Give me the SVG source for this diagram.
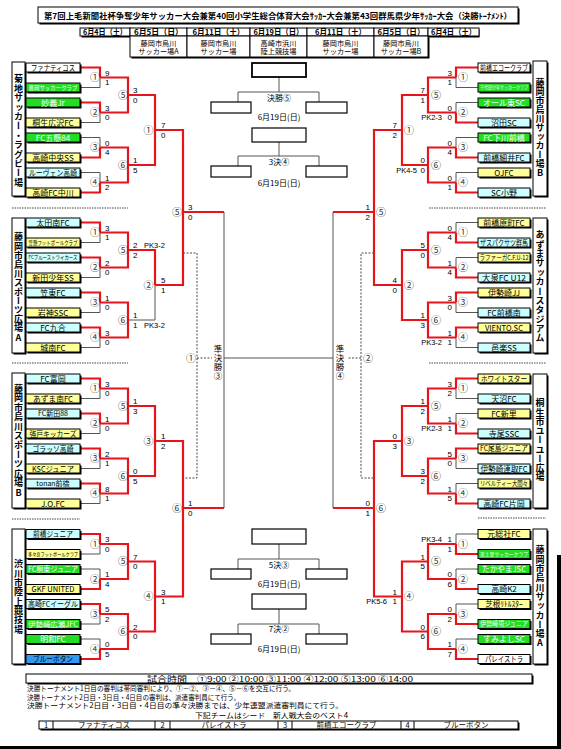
<svg xmlns="http://www.w3.org/2000/svg" width="561" height="749" viewBox="0 0 561 749">
<style>
.s{fill:#000}
.b{stroke:#000;stroke-width:1}
.tn{font-family:"Noto Sans CJK JP","Noto Sans CJK SC",sans-serif;font-size:8px;text-anchor:middle;fill:#000}
.wt{fill:#fff}
.g{fill:none;stroke:#555;stroke-width:1}
.r{fill:none;stroke:#e8141c;stroke-width:2.2}
.d{fill:none;stroke:#333;stroke-width:0.9;stroke-dasharray:2 1.5}
.sep{fill:none;stroke:#444;stroke-width:1;stroke-dasharray:1.5 1}
.sc{font-family:"Liberation Sans",Arial,sans-serif;font-size:8px;fill:#000}
.scr{font-family:"Liberation Sans",Arial,sans-serif;font-size:8px;fill:#000;text-anchor:end}
.pk{font-family:"Liberation Sans",Arial,sans-serif;font-size:7.5px;fill:#000}
.pkr{font-family:"Liberation Sans",Arial,sans-serif;font-size:7.5px;fill:#000;text-anchor:end}
.cn{font-family:"Noto Sans CJK JP",sans-serif;font-size:10px;text-anchor:middle;fill:#333}
.vl{font-family:"Noto Sans CJK JP",sans-serif;font-size:9px;font-weight:700;writing-mode:vertical-rl;text-orientation:upright;fill:#000}
.vs{font-family:"Noto Sans CJK JP",sans-serif;font-size:8.5px;writing-mode:vertical-rl;text-orientation:upright;fill:#000}
.hd{font-family:"Noto Sans CJK JP",sans-serif;font-size:8px;font-weight:700;text-anchor:middle}
.vn{font-family:"Noto Sans CJK JP",sans-serif;font-size:7.2px;text-anchor:middle}
.ft{font-family:"Noto Sans CJK JP",sans-serif;font-size:8px;text-anchor:middle}
.nt{font-family:"Noto Sans CJK JP",sans-serif;font-size:7px}
.W{fill:#fff}.Y{fill:#ffff99}.C{fill:#ccffff}.G{fill:#22dd22}.B{fill:#3399ee}
.fb{fill:#fff;stroke:#000;stroke-width:1.2}
</style>
<rect width="561" height="749" fill="#fff"/>
<rect x="0" y="746" width="561" height="3" fill="#000"/>
<rect x="557" y="555" width="4" height="194" fill="#000"/>

<g id="title">
<rect class="s" x="39.5" y="8.5" width="480" height="16"/>
<rect class="b" x="38" y="7" width="480" height="16" fill="#fff"/>
<text class="hd" x="278" y="18.5" textLength="468" lengthAdjust="spacingAndGlyphs">第7回上毛新聞社杯争奪少年サッカー大会兼第40回小学生総合体育大会ｻｯｶｰ大会兼第43回群馬県少年ｻｯｶｰ大会（決勝ﾄｰﾅﾒﾝﾄ）</text>
</g>

<g id="header">
<rect class="s" x="81.5" y="29.5" width="398" height="8"/>
<rect class="s" x="131.5" y="37.5" width="298" height="21"/>
<g fill="#fff" stroke="#000" stroke-width="1">
<rect x="80" y="28" width="50" height="8"/><rect x="130" y="28" width="57" height="8"/><rect x="187" y="28" width="63" height="8"/><rect x="250" y="28" width="57" height="8"/><rect x="307" y="28" width="67" height="8"/><rect x="374" y="28" width="54" height="8"/><rect x="428" y="28" width="51" height="8"/>
<rect x="130" y="36" width="57" height="21"/><rect x="187" y="36" width="63" height="21"/><rect x="250" y="36" width="57" height="21"/><rect x="307" y="36" width="67" height="21"/><rect x="374" y="36" width="54" height="21"/>
</g>
<text class="hd" x="105" y="35" textLength="44" lengthAdjust="spacingAndGlyphs">6月4日（土）</text>
<text class="hd" x="158.5" y="35" textLength="49" lengthAdjust="spacingAndGlyphs">6月5日（日）</text>
<text class="hd" x="218.5" y="35" textLength="52" lengthAdjust="spacingAndGlyphs">6月11日（土）</text>
<text class="hd" x="278.5" y="35" textLength="50" lengthAdjust="spacingAndGlyphs">6月19日（日）</text>
<text class="hd" x="340.5" y="35" textLength="51" lengthAdjust="spacingAndGlyphs">6月11日（土）</text>
<text class="hd" x="401" y="35" textLength="47" lengthAdjust="spacingAndGlyphs">6月5日（日）</text>
<text class="hd" x="453.5" y="35" textLength="45" lengthAdjust="spacingAndGlyphs">6月4日（土）</text>
<text class="vn" x="158.5" y="45.5">藤岡市烏川</text><text class="vn" x="158.5" y="54">サッカー場A</text>
<text class="vn" x="218.5" y="45.5">藤岡市烏川</text><text class="vn" x="218.5" y="54">サッカー場</text>
<text class="vn" x="278.5" y="45.5">高崎市浜川</text><text class="vn" x="278.5" y="54">陸上競技場</text>
<text class="vn" x="340.5" y="45.5">藤岡市烏川</text><text class="vn" x="340.5" y="54">サッカー場</text>
<text class="vn" x="401" y="45.5">藤岡市烏川</text><text class="vn" x="401" y="54">サッカー場B</text>
</g>

<g id="venues">
<rect class="s" x="13.5" y="63.5" width="13" height="134"/><rect class="b" x="12" y="62" width="13" height="134" fill="#fff"/>
<text class="vl" x="18.5" y="74.5" letter-spacing="0.4">菊地サッカー・ラグビー場</text>
<rect class="s" x="13.5" y="219.5" width="13" height="135"/><rect class="b" x="12" y="218" width="13" height="135" fill="#fff"/>
<text class="vl" x="18.5" y="232.5" letter-spacing="0.1">藤岡市烏川スポーツ広場A</text>
<rect class="s" x="13.5" y="374.5" width="13" height="135"/><rect class="b" x="12" y="373" width="13" height="135" fill="#fff"/>
<text class="vl" x="18.5" y="383.8" letter-spacing="0.45">藤岡市烏川スポーツ広場B</text>
<rect class="s" x="13.5" y="530.5" width="13" height="135"/><rect class="b" x="12" y="529" width="13" height="135" fill="#fff"/>
<text class="vl" x="18.5" y="559.5" letter-spacing="0.3">渋川市陸上競技場</text>
<rect class="s" x="534.5" y="62.5" width="14" height="135"/><rect class="b" x="533" y="61" width="14" height="135" fill="#fff"/>
<text class="vl" x="540" y="78.5">藤岡市烏川サッカー場B</text>
<rect class="s" x="534.5" y="219.5" width="14" height="135"/><rect class="b" x="533" y="218" width="14" height="135" fill="#fff"/>
<text class="vl" x="540" y="230.5" letter-spacing="0.36">あずまサッカースタジアム</text>
<rect class="s" x="534.5" y="375.5" width="14" height="134"/><rect class="b" x="533" y="374" width="14" height="134" fill="#fff"/>
<text class="vl" x="540" y="398.5" letter-spacing="0.25">桐生市ユーユー広場</text>
<rect class="s" x="534.5" y="530.5" width="14" height="135"/><rect class="b" x="533" y="529" width="14" height="135" fill="#fff"/>
<text class="vl" x="540" y="545.5" letter-spacing="0.3">藤岡市烏川サッカー場A</text>
</g>

<g id="separators">
<path class="sep" d="M12,208H128M12,363H128M12,519H80M429,208H546M429,363H546M478,518H546"/>
</g>

<g id="connectors">
<path class="g" d="M80,87.5H100V77.5M80,122.5H100V112.5M80,137.5H100V147.5M80,172.5H100V182.5M80,242.5H100V232.5M80,277.5H100V267.5M80,312.5H100V302.5M80,347.5H100V337.5M80,398.5H100V388.5M80,433.5H100V423.5M80,468.5H100V458.5M80,503.5H100V493.5M80,554H100V544M80,569H100V579M80,624H100V614M80,639H100V649M128,320H155V285"/>
<path class="g" d="M478,87.5H456V77.5M478,102.5H456V112.5M478,137.5H456V147.5M478,172.5H456V182.5M478,222.5H456V232.5M478,257.5H456V267.5M478,312.5H456V302.5M478,347.5H456V337.5M478,398.5H456V388.5M478,413.5H456V423.5M478,468.5H456V458.5M478,483.5H456V493.5M478,534H456V544M478,569H456V579M478,604H456V614M478,639H456V649"/>
<path class="g" d="M224,212V508M333,212V508M224,358H333"/>
<path class="d" d="M183,253H197V478H183M197,358H212M374,253H361V478H374M361,358H347"/>
<path class="r" d="M80,67.5H100V77.5M80,102.5H100V112.5M80,157.5H100V147.5M80,192.5H100V182.5M100,77.5H128V95M100,112.5H128V95M100,147.5H128V165M100,182.5H128V165M128,95H155V130M128,165H155V130M155,130H183V212"/>
<path class="r" d="M80,222.5H100V232.5M80,257.5H100V267.5M80,292.5H100V302.5M80,327.5H100V337.5M100,232.5H128V250M100,267.5H128V250M100,302.5H128V320M100,337.5H128V320M128,250H155V285M155,285H183V212M183,212H224"/>
<path class="r" d="M80,378.5H100V388.5M80,413.5H100V423.5M80,448.5H100V458.5M80,483.5H100V493.5M100,388.5H128V406M100,423.5H128V406M100,458.5H128V476M100,493.5H128V476M128,406H155V441M128,476H155V441M155,441H183V508"/>
<path class="r" d="M80,534H100V544M80,589H100V579M80,604H100V614M80,659H100V649M100,544H128V561.5M100,579H128V561.5M100,614H128V631.5M100,649H128V631.5M128,561.5H155V596.5M128,631.5H155V596.5M155,596.5H183V508M183,508H224"/>
<path class="r" d="M478,67.5H456V77.5M478,122.5H456V112.5M478,157.5H456V147.5M478,192.5H456V182.5M456,77.5H428V95M456,112.5H428V95M456,147.5H428V165M456,182.5H428V165M428,95H402V130M428,165H402V130M402,130H374V212"/>
<path class="r" d="M478,242.5H456V232.5M478,277.5H456V267.5M478,292.5H456V302.5M478,327.5H456V337.5M456,232.5H428V250M456,267.5H428V250M456,302.5H428V320M456,337.5H428V320M428,250H402V285M428,320H402V285M402,285H374V212M374,212H333"/>
<path class="r" d="M478,378.5H456V388.5M478,433.5H456V423.5M478,448.5H456V458.5M478,503.5H456V493.5M456,388.5H428V406M456,423.5H428V406M456,458.5H428V476M456,493.5H428V476M428,406H402V441M428,476H402V441M402,441H374V508"/>
<path class="r" d="M478,554H456V544M478,589H456V579M478,624H456V614M478,659H456V649M456,544H428V561.5M456,579H428V561.5M456,614H428V631.5M456,649H428V631.5M428,561.5H402V596.5M428,631.5H402V596.5M402,596.5H374V508M374,508H333"/>
<path class="g" d="M279,77V92M238,102V92H319V102M279,142V156M238,166V156H319V166M279,544V559M238,569V559H319V569M279,609V624M238,634V624H319V634"/>
</g>

<g id="teams-left">
<g id="L1"><rect class="s" x="27.5" y="64.5" width="54" height="9"/><rect class="b W" x="26" y="63" width="54" height="9"/><text class="tn" x="53" y="70.5" textLength="44" lengthAdjust="spacingAndGlyphs">ファナティコス</text></g>
<g id="L2"><rect class="s" x="27.5" y="84.5" width="54" height="9"/><rect class="b G" x="26" y="83" width="54" height="9"/><text class="tn wt" x="53" y="89.7" style="font-size:6px" textLength="49" lengthAdjust="spacingAndGlyphs">豊岡サッカークラブ</text></g>
<g id="L3"><rect class="s" x="27.5" y="99.5" width="54" height="9"/><rect class="b G" x="26" y="98" width="54" height="9"/><text class="tn wt" x="53" y="105.5">妙義Jr</text></g>
<g id="L4"><rect class="s" x="27.5" y="119.5" width="54" height="9"/><rect class="b Y" x="26" y="118" width="54" height="9"/><text class="tn" x="53" y="125.5">桐生広沢FC</text></g>
<g id="L5"><rect class="s" x="27.5" y="134.5" width="54" height="9"/><rect class="b G" x="26" y="133" width="54" height="9"/><text class="tn wt" x="53" y="140.5">FC五懸84</text></g>
<g id="L6"><rect class="s" x="27.5" y="154.5" width="54" height="9"/><rect class="b Y" x="26" y="153" width="54" height="9"/><text class="tn" x="53" y="160.5">高崎中央SS</text></g>
<g id="L7"><rect class="s" x="27.5" y="169.5" width="54" height="9"/><rect class="b C" x="26" y="168" width="54" height="9"/><text class="tn" x="53" y="175.5" textLength="48" lengthAdjust="spacingAndGlyphs">ルーヴェン高崎</text></g>
<g id="L8"><rect class="s" x="27.5" y="189.5" width="54" height="9"/><rect class="b Y" x="26" y="188" width="54" height="9"/><text class="tn" x="53" y="195.5">高崎FC中川</text></g>

<g id="L9"><rect class="s" x="27.5" y="219.5" width="54" height="9"/><rect class="b C" x="26" y="218" width="54" height="9"/><text class="tn" x="53" y="225.5">太田南FC</text></g>
<g id="L10"><rect class="s" x="27.5" y="239.5" width="54" height="9"/><rect class="b Y" x="26" y="238" width="54" height="9"/><text class="tn" x="53" y="244.5" style="font-size:5.5px" textLength="49" lengthAdjust="spacingAndGlyphs">笠懸フットボールクラブ</text></g>
<g id="L11"><rect class="s" x="27.5" y="254.5" width="54" height="9"/><rect class="b C" x="26" y="253" width="54" height="9"/><text class="tn" x="53" y="259.3" style="font-size:5px" textLength="49" lengthAdjust="spacingAndGlyphs">FCブルーストライカーズ</text></g>
<g id="L12"><rect class="s" x="27.5" y="274.5" width="54" height="9"/><rect class="b Y" x="26" y="273" width="54" height="9"/><text class="tn" x="53" y="280.5">新田少年SS</text></g>
<g id="L13"><rect class="s" x="27.5" y="289.5" width="54" height="9"/><rect class="b C" x="26" y="288" width="54" height="9"/><text class="tn" x="53" y="295.5">笠東FC</text></g>
<g id="L14"><rect class="s" x="27.5" y="309.5" width="54" height="9"/><rect class="b Y" x="26" y="308" width="54" height="9"/><text class="tn" x="53" y="315.5">岩神SSC</text></g>
<g id="L15"><rect class="s" x="27.5" y="324.5" width="54" height="9"/><rect class="b C" x="26" y="323" width="54" height="9"/><text class="tn" x="53" y="330.5">FC九合</text></g>
<g id="L16"><rect class="s" x="27.5" y="344.5" width="54" height="9"/><rect class="b Y" x="26" y="343" width="54" height="9"/><text class="tn" x="53" y="350.5">城南FC</text></g>

<g id="L17"><rect class="s" x="27.5" y="375.5" width="54" height="9"/><rect class="b C" x="26" y="374" width="54" height="9"/><text class="tn" x="53" y="381.5">FC富岡</text></g>
<g id="L18"><rect class="s" x="27.5" y="395.5" width="54" height="9"/><rect class="b Y" x="26" y="394" width="54" height="9"/><text class="tn" x="53" y="401.5" textLength="40" lengthAdjust="spacingAndGlyphs">あずま南FC</text></g>
<g id="L19"><rect class="s" x="27.5" y="410.5" width="54" height="9"/><rect class="b C" x="26" y="409" width="54" height="9"/><text class="tn" x="53" y="416.1" style="font-size:7px">FC新田88</text></g>
<g id="L20"><rect class="s" x="27.5" y="430.5" width="54" height="9"/><rect class="b Y" x="26" y="429" width="54" height="9"/><text class="tn" x="53" y="436.5" textLength="47" lengthAdjust="spacingAndGlyphs">強戸キッカーズ</text></g>
<g id="L21"><rect class="s" x="27.5" y="445.5" width="54" height="9"/><rect class="b C" x="26" y="444" width="54" height="9"/><text class="tn" x="53" y="451.5" textLength="41" lengthAdjust="spacingAndGlyphs">ゴラッソ高崎</text></g>
<g id="L22"><rect class="s" x="27.5" y="465.5" width="54" height="9"/><rect class="b Y" x="26" y="464" width="54" height="9"/><text class="tn" x="53" y="471.5" textLength="42" lengthAdjust="spacingAndGlyphs">KSCジュニア</text></g>
<g id="L23"><rect class="s" x="27.5" y="480.5" width="54" height="9"/><rect class="b C" x="26" y="479" width="54" height="9"/><text class="tn" x="53" y="486.1" style="font-size:7px">tonan前橋</text></g>
<g id="L24"><rect class="s" x="27.5" y="500.5" width="54" height="9"/><rect class="b Y" x="26" y="499" width="54" height="9"/><text class="tn" x="53" y="506.5">J.O.FC</text></g>

<g id="L25"><rect class="s" x="27.5" y="531" width="54" height="9"/><rect class="b C" x="26" y="529.5" width="54" height="9"/><text class="tn" x="53" y="537" textLength="40" lengthAdjust="spacingAndGlyphs">前橋ジュニア</text></g>
<g id="L26"><rect class="s" x="27.5" y="551" width="54" height="9"/><rect class="b Y" x="26" y="549.5" width="54" height="9"/><text class="tn" x="53" y="555.8" style="font-size:5px" textLength="50" lengthAdjust="spacingAndGlyphs">多々良フットボールクラブ</text></g>
<g id="L27"><rect class="s" x="27.5" y="566" width="54" height="9"/><rect class="b G" x="26" y="564.5" width="54" height="9"/><text class="tn wt" x="53" y="571.8" style="font-size:7.5px" textLength="50" lengthAdjust="spacingAndGlyphs">FC桐東ジュニア</text></g>
<g id="L28"><rect class="s" x="27.5" y="586" width="54" height="9"/><rect class="b Y" x="26" y="584.5" width="54" height="9"/><text class="tn" x="53" y="592" textLength="43" lengthAdjust="spacingAndGlyphs">GKF UNITED</text></g>
<g id="L29"><rect class="s" x="27.5" y="601" width="54" height="9"/><rect class="b C" x="26" y="599.5" width="54" height="9"/><text class="tn" x="53" y="606.8" style="font-size:7.5px" textLength="50" lengthAdjust="spacingAndGlyphs">高崎FCイーグル</text></g>
<g id="L30"><rect class="s" x="27.5" y="621" width="54" height="9"/><rect class="b G" x="26" y="619.5" width="54" height="9"/><text class="tn wt" x="53" y="626.6" style="font-size:7px" textLength="50" lengthAdjust="spacingAndGlyphs">伊勢崎広瀬JFC</text></g>
<g id="L31"><rect class="s" x="27.5" y="636" width="54" height="9"/><rect class="b G" x="26" y="634.5" width="54" height="9"/><text class="tn wt" x="53" y="642">明和FC</text></g>
<g id="L32"><rect class="s" x="27.5" y="656" width="54" height="9"/><rect class="b B" x="26" y="654.5" width="54" height="9"/><text class="tn" x="53" y="662" textLength="40" lengthAdjust="spacingAndGlyphs">ブルーボタン</text></g>
</g>

<g id="teams-right">
<g id="R1"><rect class="s" x="479.5" y="64.5" width="52" height="9"/><rect class="b W" x="478" y="63" width="52" height="9"/><text class="tn" x="504" y="70.5" textLength="48" lengthAdjust="spacingAndGlyphs">前橋エコークラブ</text></g>
<g id="R2"><rect class="s" x="479.5" y="84.5" width="52" height="9"/><rect class="b G" x="478" y="83" width="52" height="9"/><text class="tn wt" x="504" y="89.1" style="font-size:4.5px" textLength="48" lengthAdjust="spacingAndGlyphs">千代田少年サッカークラブ</text></g>
<g id="R3"><rect class="s" x="479.5" y="99.5" width="52" height="9"/><rect class="b G" x="478" y="98" width="52" height="9"/><text class="tn wt" x="504" y="105.5">オール東SC</text></g>
<g id="R4"><rect class="s" x="479.5" y="119.5" width="52" height="9"/><rect class="b C" x="478" y="118" width="52" height="9"/><text class="tn" x="504" y="125.5">沼田SC</text></g>
<g id="R5"><rect class="s" x="479.5" y="134.5" width="52" height="9"/><rect class="b G" x="478" y="133" width="52" height="9"/><text class="tn wt" x="504" y="140.5">FC下川前橋</text></g>
<g id="R6"><rect class="s" x="479.5" y="154.5" width="52" height="9"/><rect class="b C" x="478" y="153" width="52" height="9"/><text class="tn" x="504" y="160.5">前橋細井FC</text></g>
<g id="R7"><rect class="s" x="479.5" y="169.5" width="52" height="9"/><rect class="b Y" x="478" y="168" width="52" height="9"/><text class="tn" x="504" y="175.5">OJFC</text></g>
<g id="R8"><rect class="s" x="479.5" y="189.5" width="52" height="9"/><rect class="b C" x="478" y="188" width="52" height="9"/><text class="tn" x="504" y="195.5">SC小野</text></g>

<g id="R9"><rect class="s" x="479.5" y="219.5" width="52" height="9"/><rect class="b Y" x="478" y="218" width="52" height="9"/><text class="tn" x="504" y="225.5">前橋原町FC</text></g>
<g id="R10"><rect class="s" x="479.5" y="239.5" width="52" height="9"/><rect class="b C" x="478" y="238" width="52" height="9"/><text class="tn" x="504" y="245.5" textLength="48" lengthAdjust="spacingAndGlyphs">ザスパクサツ群馬</text></g>
<g id="R11"><rect class="s" x="479.5" y="254.5" width="52" height="9"/><rect class="b Y" x="478" y="253" width="52" height="9"/><text class="tn" x="504" y="259.9" style="font-size:6.5px" textLength="49" lengthAdjust="spacingAndGlyphs">ラファーガC.F.U-12</text></g>
<g id="R12"><rect class="s" x="479.5" y="274.5" width="52" height="9"/><rect class="b C" x="478" y="273" width="52" height="9"/><text class="tn" x="504" y="280.5" textLength="44" lengthAdjust="spacingAndGlyphs">大泉FC U12</text></g>
<g id="R13"><rect class="s" x="479.5" y="289.5" width="52" height="9"/><rect class="b Y" x="478" y="288" width="52" height="9"/><text class="tn" x="504" y="295.5">伊勢崎JJ</text></g>
<g id="R14"><rect class="s" x="479.5" y="309.5" width="52" height="9"/><rect class="b C" x="478" y="308" width="52" height="9"/><text class="tn" x="504" y="315.5">FC前橋南</text></g>
<g id="R15"><rect class="s" x="479.5" y="324.5" width="52" height="9"/><rect class="b Y" x="478" y="323" width="52" height="9"/><text class="tn" x="504" y="330.5" textLength="38" lengthAdjust="spacingAndGlyphs">VIENTO.SC</text></g>
<g id="R16"><rect class="s" x="479.5" y="344.5" width="52" height="9"/><rect class="b C" x="478" y="343" width="52" height="9"/><text class="tn" x="504" y="350.5">邑楽SS</text></g>

<g id="R17"><rect class="s" x="479.5" y="375.5" width="52" height="9"/><rect class="b Y" x="478" y="374" width="52" height="9"/><text class="tn" x="504" y="381.5" textLength="46" lengthAdjust="spacingAndGlyphs">ホワイトスター</text></g>
<g id="R18"><rect class="s" x="479.5" y="395.5" width="52" height="9"/><rect class="b C" x="478" y="394" width="52" height="9"/><text class="tn" x="504" y="401.5">天沼FC</text></g>
<g id="R19"><rect class="s" x="479.5" y="410.5" width="52" height="9"/><rect class="b Y" x="478" y="409" width="52" height="9"/><text class="tn" x="504" y="416.5">FC新里</text></g>
<g id="R20"><rect class="s" x="479.5" y="430.5" width="52" height="9"/><rect class="b C" x="478" y="429" width="52" height="9"/><text class="tn" x="504" y="436.5">寺尾SSC</text></g>
<g id="R21"><rect class="s" x="479.5" y="445.5" width="52" height="9"/><rect class="b Y" x="478" y="444" width="52" height="9"/><text class="tn" x="504" y="451.3" style="font-size:7.5px" textLength="48" lengthAdjust="spacingAndGlyphs">FC尾島ジュニア</text></g>
<g id="R22"><rect class="s" x="479.5" y="465.5" width="52" height="9"/><rect class="b C" x="478" y="464" width="52" height="9"/><text class="tn" x="504" y="471.5" textLength="47" lengthAdjust="spacingAndGlyphs">伊勢崎連取FC</text></g>
<g id="R23"><rect class="s" x="479.5" y="480.5" width="52" height="9"/><rect class="b Y" x="478" y="479" width="52" height="9"/><text class="tn" x="504" y="485.9" style="font-size:6.5px" textLength="48" lengthAdjust="spacingAndGlyphs">リベルティー大間々</text></g>
<g id="R24"><rect class="s" x="479.5" y="500.5" width="52" height="9"/><rect class="b C" x="478" y="499" width="52" height="9"/><text class="tn" x="504" y="506.5">高崎FC片岡</text></g>

<g id="R25"><rect class="s" x="479.5" y="531" width="52" height="9"/><rect class="b Y" x="478" y="529.5" width="52" height="9"/><text class="tn" x="504" y="537">元総社FC</text></g>
<g id="R26"><rect class="s" x="479.5" y="551" width="52" height="9"/><rect class="b G" x="478" y="549.5" width="52" height="9"/><text class="tn wt" x="504" y="555.8" style="font-size:5px" textLength="48" lengthAdjust="spacingAndGlyphs">美土里サッカークラブ</text></g>
<g id="R27"><rect class="s" x="479.5" y="566" width="52" height="9"/><rect class="b G" x="478" y="564.5" width="52" height="9"/><text class="tn wt" x="504" y="572" textLength="44" lengthAdjust="spacingAndGlyphs">たかやまJSC</text></g>
<g id="R28"><rect class="s" x="479.5" y="586" width="52" height="9"/><rect class="b C" x="478" y="584.5" width="52" height="9"/><text class="tn" x="504" y="592">高崎K2</text></g>
<g id="R29"><rect class="s" x="479.5" y="601" width="52" height="9"/><rect class="b Y" x="478" y="599.5" width="52" height="9"/><text class="tn" x="504" y="606.8" style="font-size:7.5px">芝根ﾘﾄﾙｽﾀｰ</text></g>
<g id="R30"><rect class="s" x="479.5" y="621" width="52" height="9"/><rect class="b G" x="478" y="619.5" width="52" height="9"/><text class="tn wt" x="504" y="626.4" style="font-size:6.5px" textLength="48" lengthAdjust="spacingAndGlyphs">伊勢崎境ジュニア</text></g>
<g id="R31"><rect class="s" x="479.5" y="636" width="52" height="9"/><rect class="b G" x="478" y="634.5" width="52" height="9"/><text class="tn wt" x="504" y="642">すみよしSC</text></g>
<g id="R32"><rect class="s" x="479.5" y="656" width="52" height="9"/><rect class="b W" x="478" y="654.5" width="52" height="9"/><text class="tn" x="504" y="662" textLength="38" lengthAdjust="spacingAndGlyphs">パレイストラ</text></g>
</g>

<g id="scores-left" class="sc">
<text x="105" y="75.5">9</text><text x="105" y="85">1</text><text x="105" y="110.5">3</text><text x="105" y="120">0</text><text x="105" y="145.5">0</text><text x="105" y="155">4</text><text x="105" y="180.5">1</text><text x="105" y="190">2</text>
<text x="133" y="93">3</text><text x="133" y="102.5">0</text><text x="133" y="163">1</text><text x="133" y="172.5">5</text>
<text x="161" y="128">7</text><text x="161" y="137.5">0</text>
<text x="188" y="210">3</text><text x="188" y="219.5">0</text>
<text x="105" y="230.5">3</text><text x="105" y="240">1</text><text x="105" y="265.5">2</text><text x="105" y="275">0</text><text x="105" y="300.5">1</text><text x="105" y="310">0</text><text x="105" y="335.5">3</text><text x="105" y="345">0</text>
<text x="133" y="248">2</text><text x="133" y="257.5">2</text><text x="133" y="318">1</text><text x="133" y="327.5">1</text>
<text class="pk" x="144" y="248">PK3-2</text><text class="pk" x="144" y="327.5">PK3-2</text>
<text x="161" y="283">5</text><text x="161" y="292.5">1</text>
<text x="105" y="386.5">3</text><text x="105" y="396">0</text><text x="105" y="421.5">1</text><text x="105" y="431">0</text><text x="105" y="456.5">2</text><text x="105" y="466">1</text><text x="105" y="491.5">8</text><text x="105" y="501">1</text>
<text x="133" y="404">1</text><text x="133" y="413.5">3</text><text x="133" y="474">0</text><text x="133" y="483.5">5</text>
<text x="161" y="439">1</text><text x="161" y="448.5">2</text>
<text x="188" y="506">1</text><text x="188" y="515.5">0</text>
<text x="105" y="542">3</text><text x="105" y="551.5">0</text><text x="105" y="577">1</text><text x="105" y="586.5">4</text><text x="105" y="612">5</text><text x="105" y="621.5">2</text><text x="105" y="647">0</text><text x="105" y="656.5">5</text>
<text x="133" y="559.5">7</text><text x="133" y="569">0</text><text x="133" y="629.5">2</text><text x="133" y="639">0</text>
<text x="161" y="594.5">3</text><text x="161" y="604">1</text>
</g>

<g id="scores-right" class="scr">
<text x="452" y="75.5">3</text><text x="452" y="85">1</text><text x="452" y="110.5">0</text><text x="452" y="120">0</text><text x="452" y="145.5">0</text><text x="452" y="155">4</text><text x="452" y="180.5">0</text><text x="452" y="190">1</text>
<text class="pkr" x="442" y="120">PK2-3</text>
<text x="425" y="93">7</text><text x="425" y="102.5">1</text><text x="425" y="163">0</text><text x="425" y="172.5">0</text>
<text class="pkr" x="417" y="172.5">PK4-5</text>
<text x="397" y="128">7</text><text x="397" y="137.5">2</text>
<text x="370" y="210">1</text><text x="370" y="219.5">2</text>
<text x="452" y="230.5">0</text><text x="452" y="240">4</text><text x="452" y="265.5">1</text><text x="452" y="275">4</text><text x="452" y="300.5">3</text><text x="452" y="310">0</text><text x="452" y="335.5">1</text><text x="452" y="345">1</text>
<text class="pkr" x="442" y="345">PK3-2</text>
<text x="425" y="248">5</text><text x="425" y="257.5">0</text><text x="425" y="318">1</text><text x="425" y="327.5">3</text>
<text x="397" y="283">4</text><text x="397" y="292.5">0</text>
<text x="452" y="386.5">3</text><text x="452" y="396">2</text><text x="452" y="421.5">1</text><text x="452" y="431">1</text><text x="452" y="456.5">5</text><text x="452" y="466">0</text><text x="452" y="491.5">1</text><text x="452" y="501">5</text>
<text class="pkr" x="442" y="431">PK2-3</text>
<text x="425" y="404">1</text><text x="425" y="413.5">2</text><text x="425" y="474">3</text><text x="425" y="483.5">2</text>
<text x="397" y="439">0</text><text x="397" y="448.5">3</text>
<text x="370" y="506">0</text><text x="370" y="515.5">1</text>
<text x="452" y="542">1</text><text x="452" y="551.5">1</text><text x="452" y="577">0</text><text x="452" y="586.5">6</text><text x="452" y="612">0</text><text x="452" y="621.5">2</text><text x="452" y="647">1</text><text x="452" y="656.5">7</text>
<text class="pkr" x="442" y="542">PK3-4</text>
<text x="425" y="559.5">1</text><text x="425" y="569">5</text><text x="425" y="629.5">0</text><text x="425" y="639">6</text>
<text x="397" y="594.5">1</text><text x="397" y="604">1</text>
<text class="pkr" x="387" y="604">PK5-6</text>
</g>

<g id="match-numbers" class="cn">
<text x="95" y="81.1">①</text><text x="95" y="116.1">②</text><text x="95" y="151.1">③</text><text x="95" y="186.1">④</text>
<text x="95" y="236.1">①</text><text x="95" y="271.1">②</text><text x="95" y="306.1">③</text><text x="95" y="341.1">④</text>
<text x="95" y="392.1">①</text><text x="95" y="427.1">②</text><text x="95" y="462.1">③</text><text x="95" y="497.1">④</text>
<text x="95" y="547.6">①</text><text x="95" y="582.6">②</text><text x="95" y="617.6">③</text><text x="95" y="652.6">④</text>
<text x="123" y="98.6">⑤</text><text x="123" y="168.6">⑥</text><text x="123" y="253.6">⑤</text><text x="123" y="323.6">⑥</text><text x="123" y="409.6">⑤</text><text x="123" y="479.6">⑥</text><text x="123" y="565.1">⑤</text><text x="123" y="635.1">⑥</text>
<text x="148.5" y="133.6">①</text><text x="148.5" y="288.6">②</text><text x="148.5" y="444.6">③</text><text x="148.5" y="600.1">④</text>
<text x="177" y="215.6">⑤</text><text x="177" y="511.6">⑥</text>
<text x="463" y="81.1">①</text><text x="463" y="116.1">②</text><text x="463" y="151.1">③</text><text x="463" y="186.1">④</text>
<text x="463" y="236.1">①</text><text x="463" y="271.1">②</text><text x="463" y="306.1">③</text><text x="463" y="341.1">④</text>
<text x="463" y="392.1">①</text><text x="463" y="427.1">②</text><text x="463" y="462.1">③</text><text x="463" y="497.1">④</text>
<text x="463" y="547.6">①</text><text x="463" y="582.6">②</text><text x="463" y="617.6">③</text><text x="463" y="652.6">④</text>
<text x="436" y="98.6">⑤</text><text x="436" y="168.6">⑥</text><text x="436" y="253.6">⑤</text><text x="436" y="323.6">⑥</text><text x="436" y="409.6">⑤</text><text x="436" y="479.6">⑥</text><text x="436" y="565.1">⑤</text><text x="436" y="635.1">⑥</text>
<text x="409" y="133.6">①</text><text x="409" y="288.6">②</text><text x="409" y="444.6">③</text><text x="409" y="600.1">④</text>
<text x="381" y="215.6">⑤</text><text x="381" y="511.6">⑥</text>
<text x="191" y="361.6">①</text><text x="368" y="361.6">②</text>
</g>

<g id="semifinals">
<text class="vs" x="218" y="344.5" letter-spacing="0.6">準決勝③</text>
<text class="vs" x="340" y="344.5" letter-spacing="0.6">準決勝④</text>
</g>

<g id="finals">
<g id="final"><rect x="252" y="63" width="54" height="14" fill="#fff" stroke="#000" stroke-width="1.8"/><rect class="fb" x="211" y="102" width="40" height="11"/><rect class="fb" x="306" y="102" width="41" height="11"/><text class="ft" x="279" y="100.5">決勝⑤</text><text class="ft" x="279" y="120">6月19日(日)</text></g>
<g id="third"><rect class="fb" x="252" y="128" width="54" height="14"/><rect class="fb" x="211" y="166" width="40" height="11"/><rect class="fb" x="306" y="166" width="41" height="11"/><text class="ft" x="279" y="164.5">3決④</text><text class="ft" x="279" y="186">6月19日(日)</text></g>
<g id="fifth"><rect class="fb" x="252" y="529" width="54" height="15"/><rect class="fb" x="211" y="569" width="40" height="10"/><rect class="fb" x="306" y="569" width="41" height="10"/><text class="ft" x="279" y="568">5決③</text><text class="ft" x="279" y="587">6月19日(日)</text></g>
<g id="seventh"><rect class="fb" x="252" y="594" width="54" height="15"/><rect class="fb" x="211" y="634" width="40" height="10"/><rect class="fb" x="306" y="634" width="41" height="10"/><text class="ft" x="279" y="632">7決②</text><text class="ft" x="279" y="652">6月19日(日)</text></g>
</g>

<g id="notes">
<rect class="s" x="27.5" y="675.5" width="506" height="9"/><rect class="b" x="26" y="674" width="506" height="9" fill="#fff"/>
<text class="nt" x="280" y="681.6" text-anchor="middle" style="font-size:7.5px" textLength="266" lengthAdjust="spacingAndGlyphs">試合時間　①9:00 ②10:00 ③11:00 ④12:00 ⑤13:00 ⑥14:00</text>
<text class="nt" x="27" y="691" textLength="268" lengthAdjust="spacingAndGlyphs">決勝トーナメント1日目の審判は帯同審判により、①－②、③－④、⑤－⑥を交互に行う。</text>
<text class="nt" x="27" y="699.5" textLength="213" lengthAdjust="spacingAndGlyphs">決勝トーナメント2日目・3日目・4日目の審判は、派遣審判員にて行う。</text>
<text class="nt" x="27" y="708" textLength="316" lengthAdjust="spacingAndGlyphs">決勝トーナメント2日目・3日目・4日目の準々決勝までは、少年連盟派遣審判員にて行う。</text>
<text class="nt" x="271.5" y="717.5" text-anchor="middle" textLength="153" lengthAdjust="spacingAndGlyphs">下記チームはシード　新人戦大会のベスト4</text>
</g>

<g id="seeds">
<rect class="s" x="40.5" y="722.5" width="479" height="8"/>
<rect class="b" x="39" y="721" width="479" height="8" fill="#fff"/>
<path d="M53,721V729M155,721V729M170,721V729M278,721V729M292,721V729M401,721V729M414,721V729" stroke="#000" stroke-width="1"/>
<g class="nt" text-anchor="middle" style="font-size:7.5px">
<text x="46" y="727.6">1</text><text x="104" y="727.6">ファナティコス</text><text x="162.5" y="727.6">2</text><text x="224" y="727.6">パレイストラ</text><text x="285" y="727.6">3</text><text x="346.5" y="727.6">前橋エコークラブ</text><text x="407.5" y="727.6">4</text><text x="466" y="727.6">ブルーボタン</text>
</g>
</g>
</svg>
